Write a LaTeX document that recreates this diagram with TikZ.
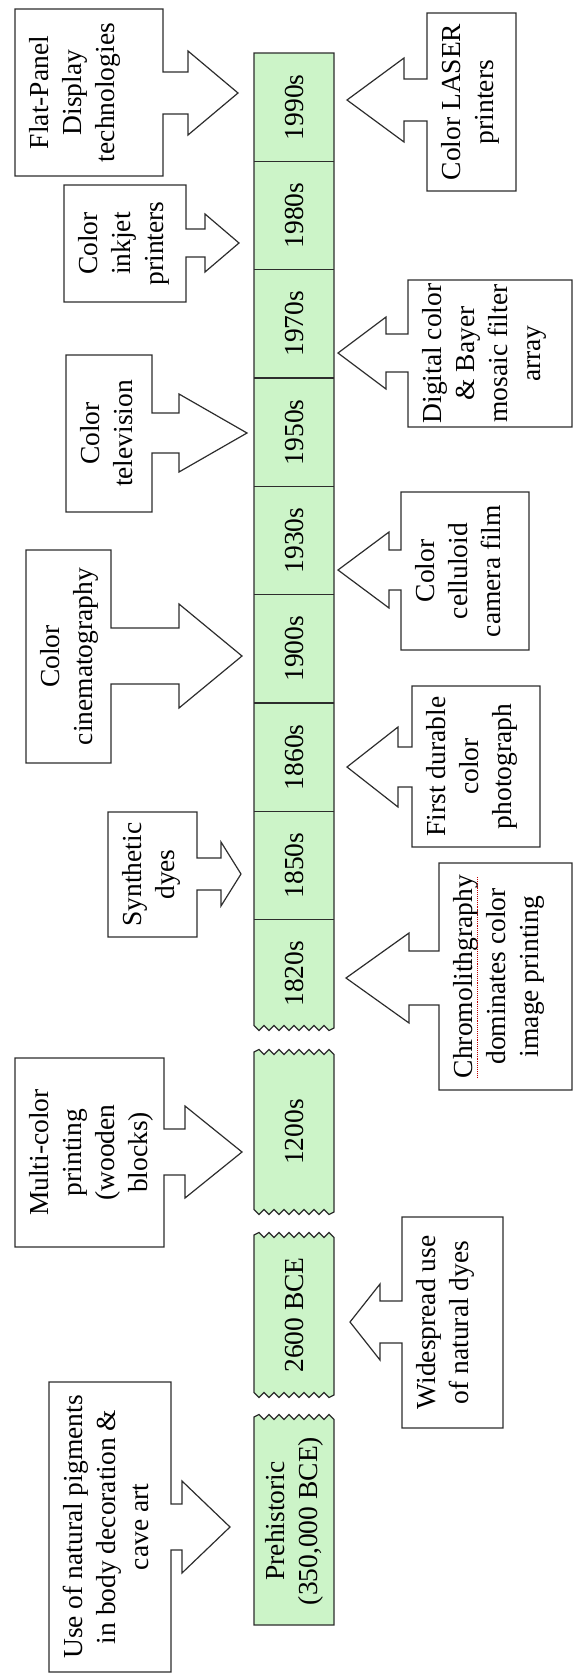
\documentclass[tikz,border=0pt]{standalone}
\usepackage{fontspec}
\setmainfont{Liberation Serif}
\definecolor{bandgreen}{RGB}{204,244,200}
\definecolor{inkline}{RGB}{45,45,45}

% box on the left with a block arrow pointing right:
% #1,#2 top-left; #3,#4 bottom-right; #5 arrow axis; #6 half shaft; #7 half head; #8 head base; #9 tip
\newcommand{\calloutright}[9]{%
  \draw[callout] (#1,#2) -- (#3,#2) -- (#3,{#5-#6}) -- (#8,{#5-#6}) -- (#8,{#5-#7})
    -- (#9,#5) -- (#8,{#5+#7}) -- (#8,{#5+#6}) -- (#3,{#5+#6}) -- (#3,#4) -- (#1,#4) -- cycle;}
% box on the right with a block arrow pointing left
\newcommand{\calloutleft}[9]{%
  \draw[callout] (#1,#2) -- (#3,#2) -- (#3,#4) -- (#1,#4) -- (#1,{#5+#6}) -- (#8,{#5+#6})
    -- (#8,{#5+#7}) -- (#9,#5) -- (#8,{#5-#7}) -- (#8,{#5-#6}) -- (#1,{#5-#6}) -- cycle;}

\begin{document}
\begin{tikzpicture}[x=1pt,y=-1pt,
  callout/.style={draw=inkline, line width=1.2pt, fill=white, line join=miter},
  note/.style={rotate=90, anchor=north, align=center, inner sep=0pt,
    font=\fontsize{27.5}{33}\selectfont},
  era/.style={rotate=90, align=center, inner sep=0pt,
    font=\fontsize{27.5}{33}\selectfont},
  cell/.style={draw=inkline, line width=1.3pt, fill=bandgreen},
  divider/.style={draw=inkline, line width=1.3pt}]

\fill[white] (0,0) rectangle (573,1674);
\useasboundingbox (0,0) rectangle (573,1674);

% ---- timeline band ----
% 1820s to 1990s, torn at the lower end
\path[cell] (254,53) -- (334,53) -- (334,1028)
  \foreach \k in {1,...,8}{ -- ({334-10*\k+5},{1028+2.5}) -- ({334-10*\k},{1028-2.5}) } -- cycle;
\foreach \yy in {161.3,269.7,378,486.3,594.7,703,811.3,919.7}
  \draw[divider] (254,\yy) -- (334,\yy);
% 1200s, torn at both ends
\path[cell] (254,1052)
  \foreach \k in {1,...,8}{ -- ({254+10*\k-5},{1052-2.5}) -- ({254+10*\k},{1052+2.5}) }
  -- (334,1212)
  \foreach \k in {1,...,8}{ -- ({334-10*\k+5},{1212+2.5}) -- ({334-10*\k},{1212-2.5}) } -- cycle;
% 2600 BCE, torn at both ends
\path[cell] (254,1235)
  \foreach \k in {1,...,8}{ -- ({254+10*\k-5},{1235-2.5}) -- ({254+10*\k},{1235+2.5}) }
  -- (334,1395)
  \foreach \k in {1,...,8}{ -- ({334-10*\k+5},{1395+2.5}) -- ({334-10*\k},{1395-2.5}) } -- cycle;
% prehistoric, torn at the top
\path[cell] (254,1417)
  \foreach \k in {1,...,8}{ -- ({254+10*\k-5},{1417-2.5}) -- ({254+10*\k},{1417+2.5}) }
  -- (334,1625) -- (254,1625) -- cycle;

\node[era] (e1990) at (294,107.2) {1990s};
\node[era] (e1980) at (294,215.5) {1980s};
\node[era] (e1970) at (294,323.8) {1970s};
\node[era] (e1950) at (294,432.2) {1950s};
\node[era] (e1930) at (294,540.5) {1930s};
\node[era] (e1900) at (294,648.8) {1900s};
\node[era] (e1860) at (294,757.2) {1860s};
\node[era] (e1850) at (294,865.5) {1850s};
\node[era] (e1820) at (294,973.8) {1820s};
\node[era] (e1200) at (294,1132) {1200s};
\node[era] (e2600) at (294,1315) {2600 BCE};
\node[era] (epre)  at (294,1521) {Prehistoric\\(350,000 BCE)};

% ---- events above the band ----
\calloutright{15}{9}{163}{176}{93}{21}{42}{188}{238}
\node[note] (flat) at (29,92.5) {Flat-Panel\\Display\\technologies};
\calloutright{64}{185}{186}{302}{243}{14}{29}{205}{239}
\node[note] (inkjet) at (78,243.5) {Color\\inkjet\\printers};
\calloutright{66}{355}{152}{512}{433}{20}{39}{179}{247}
\node[note] (tv) at (80,433.5) {Color\\television};
\calloutright{26}{550}{111}{763}{656}{28}{52}{179}{242}
\node[note] (cine) at (40,656.5) {Color\\cinematography};
\calloutright{108}{812}{197}{937}{874}{16}{32}{221}{241}
\node[note] (synth) at (122,874.5) {Synthetic\\dyes};
\calloutright{15}{1058}{164}{1247}{1152}{23}{46}{185}{242}
\node[note] (multi) at (29,1152.5) {Multi-color\\printing\\(wooden\\blocks)};
\calloutright{49}{1382}{171}{1672}{1527}{23}{46}{182}{230}
\node[note] (pigm) at (63,1527) {Use of natural pigments\\in body decoration \&\\cave art};

% ---- events below the band ----
\calloutleft{427}{13}{516}{191}{100}{21}{42}{404}{347}
\node[note] (laser) at (441,102) {Color LASER\\printers};
\calloutleft{408}{280}{572}{427}{353}{19}{36}{386}{338}
\node[note] (bayer) at (422,353.5) {Digital color\\\& Bayer\\mosaic filter\\array};
\calloutleft{401}{492}{529}{650}{570}{20}{38}{389}{338}
\node[note] (film) at (415,571) {Color\\celluloid\\camera film};
\calloutleft{412}{686}{540}{847}{767}{20}{40}{398}{347}
\node[note] (photo) at (426,766.5) {First durable\\color\\photograph};
\calloutleft{439}{863}{572}{1090}{978}{27}{45}{409}{346}
\node[note] (chromo) at (453,976.5) {Chromolithgraphy\\dominates color\\image printing};
\draw[red!75!black, densely dotted, line width=0.9pt] (477.5,877) -- (477.5,1077);
\calloutleft{402}{1217}{503}{1428}{1322}{21}{38}{380}{350}
\node[note] (dyes) at (416,1322.5) {Widespread use\\of natural dyes};

\end{tikzpicture}
\end{document}
